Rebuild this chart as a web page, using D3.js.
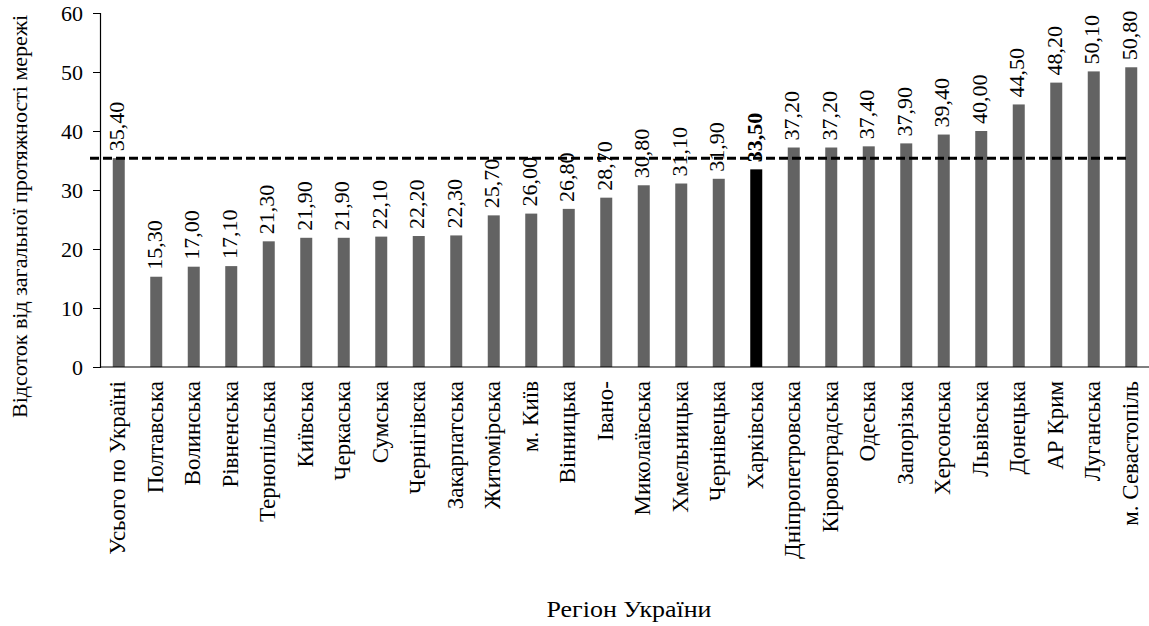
<!DOCTYPE html>
<html><head><meta charset="utf-8">
<script src="https://cdn.jsdelivr.net/npm/d3@7"></script>
<style>
body{margin:0;background:#fff;}
</style></head>
<body>
<svg id="c" width="1149" height="626"></svg>
<script>
const regions = ["Усього по Україні","Полтавська","Волинська","Рівненська","Тернопільська","Київська","Черкаська","Сумська","Чернігівска","Закарпатська","Житомірська","м. Київ","Вінницька","Івано-","Миколаївська","Хмельницька","Чернівецька","Харківська","Дніпропетровська","Кіровоградська","Одеська","Запорізька","Херсонська","Львівська","Донецька","АР Крим","Луганська","м. Севастопіль"];
const values = [35.4,15.3,17.0,17.1,21.3,21.9,21.9,22.1,22.2,22.3,25.7,26.0,26.8,28.7,30.8,31.1,31.9,33.5,37.2,37.2,37.4,37.9,39.4,40.0,44.5,48.2,50.1,50.8];
const averageValue = 35.4;
const highlight = "Харківська";
const yTicks = [0,10,20,30,40,50,60];
const xTitle = "Регіон України";
const yTitle = "Відсоток від загальної протяжності мережі";

const FF = '"Liberation Serif", "Times New Roman", serif';
const svg = d3.select("#c");
const x = d3.scaleBand().domain(regions).range([100,1150]).paddingInner(0.68).paddingOuter(0.34);
const y = d3.scaleLinear().domain([0,60]).range([367,13]);

svg.append("g").selectAll("rect").data(regions).join("rect")
  .attr("x", d=>x(d)).attr("width", x.bandwidth())
  .attr("y", (d,i)=>y(values[i])).attr("height", (d,i)=>y(0)-y(values[i]))
  .attr("fill", d=> d===highlight ? "#000" : "#636363");

const ya = svg.append("g").attr("transform","translate(100,0)")
  .call(d3.axisLeft(y).tickValues(yTicks).tickSize(7).tickPadding(10).tickFormat(d3.format("d")));
ya.select(".domain").attr("stroke","#000").attr("stroke-width",1.2);
ya.selectAll(".tick line").attr("stroke","#000");
ya.selectAll(".tick text").style("font-family",FF).style("font-size","22px").attr("fill","#000");

svg.append("line").attr("x1",100).attr("x2",1149).attr("y1",y(0)).attr("y2",y(0))
  .attr("stroke","#000").attr("stroke-width",1.2);

svg.append("line").attr("x1",90).attr("x2",1128).attr("y1",y(averageValue)).attr("y2",y(averageValue))
  .attr("stroke","#000").attr("stroke-width",3).attr("stroke-dasharray","9,4");

const fmt = v => v.toFixed(2).replace(".",",");
svg.append("g").selectAll("text").data(regions).join("text")
  .attr("transform",(d,i)=>`translate(${x(d)+x.bandwidth()/2-2},${y(values[i])-7}) rotate(-90)`)
  .attr("dy","0.33em").attr("text-anchor","start")
  .style("font-family",FF).style("font-size","22px")
  .style("font-weight", d=> d===highlight ? "bold" : "normal")
  .text((d,i)=>fmt(values[i]));

svg.append("g").selectAll("text").data(regions).join("text")
  .attr("transform",d=>`translate(${x(d)+x.bandwidth()/2-1},381) rotate(-90)`)
  .attr("dy","0.33em").attr("text-anchor","end")
  .style("font-family",FF).style("font-size","23px")
  .text(d=>d);

svg.append("text").attr("x",629).attr("y",617).attr("text-anchor","middle")
  .style("font-family",FF).style("font-size","23px").attr("textLength",165).attr("lengthAdjust","spacingAndGlyphs").text(xTitle);
svg.append("text")
  .attr("transform","translate(20,418) rotate(-90)").attr("dy","0.33em")
  .style("font-family",FF).style("font-size","22px").text(yTitle);
</script>
</body></html>
